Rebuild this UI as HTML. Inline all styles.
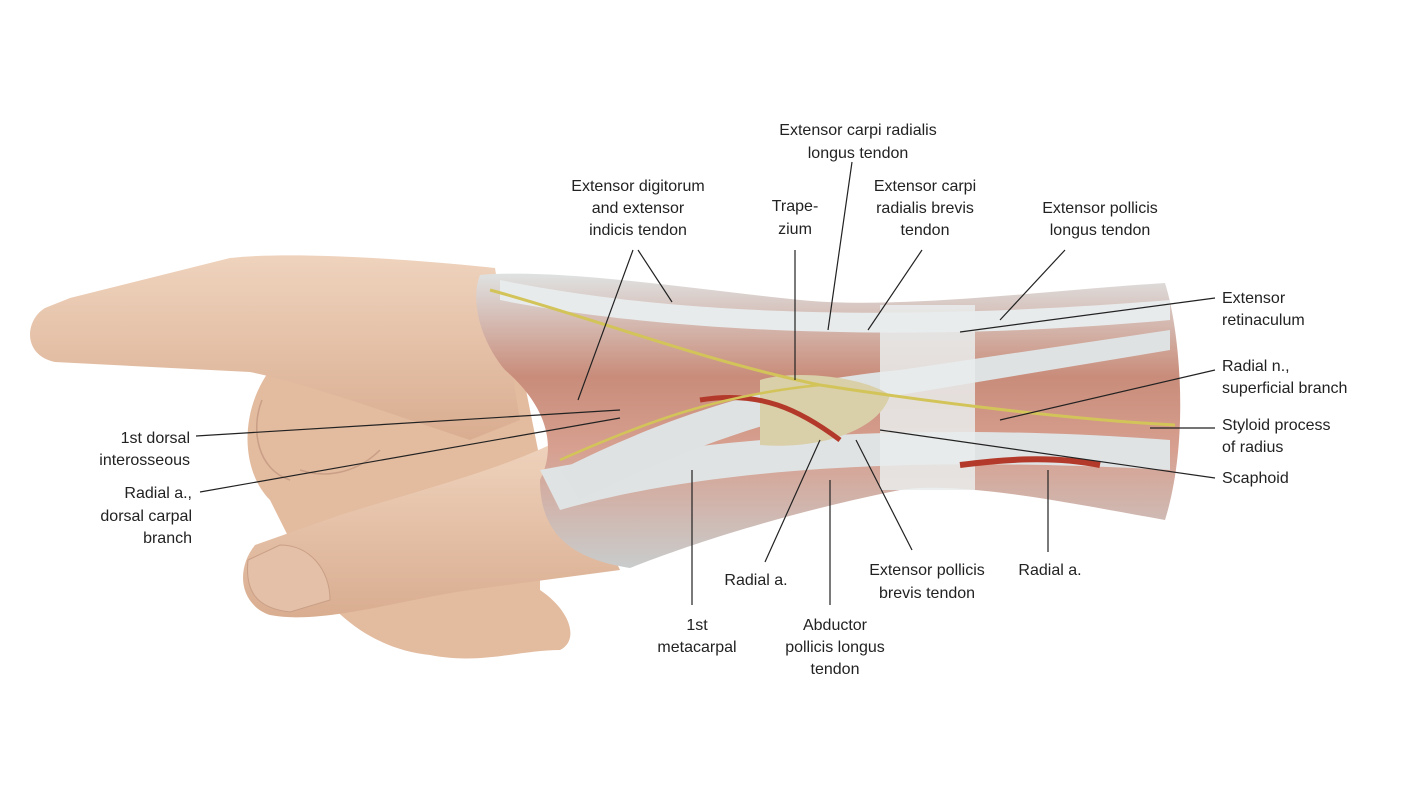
<!DOCTYPE html>
<html><head><meta charset="utf-8"><style>
html,body{margin:0;padding:0;background:#fff;}
svg{display:block}
text{font-family:"Liberation Sans",sans-serif;font-size:16px;fill:#222;}
</style></head><body>
<svg width="1424" height="798" viewBox="0 0 1424 798">
<defs>
<linearGradient id="skin" x1="0" y1="0" x2="0" y2="1"><stop offset="0" stop-color="#efd3bd"/><stop offset="1" stop-color="#d9ad90"/></linearGradient>
<linearGradient id="arm" x1="0" y1="0" x2="0" y2="1"><stop offset="0" stop-color="#dfe2e2"/><stop offset="0.35" stop-color="#c98c7a"/><stop offset="0.6" stop-color="#d7a090"/><stop offset="1" stop-color="#c9cccc"/></linearGradient>
</defs>
<!-- curled fingers / palm fill -->
<path d="M270,370 C240,410 240,470 270,500 L300,560 C330,620 380,650 430,655 C480,665 520,650 560,650 C580,640 570,610 540,590 L540,460 L520,360 Z" fill="#e3bb9f"/>
<path d="M262,400 C250,430 258,470 290,480 M300,470 C330,480 360,470 380,450" stroke="#c99f86" stroke-width="1.5" fill="none"/>
<!-- index finger -->
<path d="M45,308 C25,320 22,355 55,362 L250,372 C300,382 380,410 470,440 L520,420 L495,268 C440,262 300,250 230,258 L70,298 Z" fill="url(#skin)"/>
<!-- thumb -->
<path d="M255,545 C235,570 240,605 270,615 C320,625 400,600 470,590 L620,570 L560,440 C500,470 420,490 340,515 Z" fill="url(#skin)"/>
<path d="M248,560 C245,590 255,608 290,612 L330,600 C330,570 310,545 280,545 Z" fill="#e4c0a8" stroke="#c99f86"/>
<!-- forearm dissection -->
<path d="M480,275 C560,268 700,290 800,300 C900,310 1050,290 1165,283 C1180,330 1190,440 1165,520 C1080,505 960,480 900,490 C800,510 700,540 630,568 C580,560 540,540 540,480 C560,440 540,400 505,370 C480,340 470,300 480,275 Z" fill="url(#arm)"/>
<path d="M500,280 C600,300 800,330 1170,300 L1170,320 C900,345 650,330 500,300 Z" fill="#e8ebec"/>
<path d="M540,470 C700,440 900,420 1170,440 L1170,470 C900,455 700,470 560,510 Z" fill="#e0e3e4"/>
<path d="M560,470 C700,400 800,380 900,370 L1170,330 L1170,350 L900,395 C800,410 700,440 580,500 Z" fill="#dfe2e3"/>
<rect x="880" y="305" width="95" height="185" fill="#e9ecec" opacity="0.85"/>
<path d="M760,380 C790,370 860,375 890,395 C880,430 820,450 760,445 Z" fill="#d9cfa8"/>
<path d="M960,465 C1000,460 1050,455 1100,465" stroke="#b33a2a" stroke-width="6" fill="none"/>
<path d="M700,400 C760,390 800,410 840,440" stroke="#b33a2a" stroke-width="5" fill="none"/>
<path d="M490,290 C600,320 700,360 820,385 C950,405 1080,420 1175,425" stroke="#d3c45a" stroke-width="3" fill="none"/>
<path d="M560,460 C650,420 720,395 820,385" stroke="#d3c45a" stroke-width="2.5" fill="none"/>
<!-- leader lines -->
<g stroke="#222" stroke-width="1.2" fill="none">
<line x1="852" y1="162" x2="828" y2="330"/>
<line x1="633" y1="250" x2="578" y2="400"/>
<line x1="638" y1="250" x2="672" y2="302"/>
<line x1="795" y1="250" x2="795" y2="380"/>
<line x1="922" y1="250" x2="868" y2="330"/>
<line x1="1065" y1="250" x2="1000" y2="320"/>
<line x1="1215" y1="298" x2="960" y2="332"/>
<line x1="1215" y1="370" x2="1000" y2="420"/>
<line x1="1215" y1="428" x2="1150" y2="428"/>
<line x1="1215" y1="478" x2="880" y2="430"/>
<line x1="196" y1="436" x2="620" y2="410"/>
<line x1="200" y1="492" x2="620" y2="418"/>
<line x1="765" y1="562" x2="820" y2="440"/>
<line x1="692" y1="605" x2="692" y2="470"/>
<line x1="830" y1="605" x2="830" y2="480"/>
<line x1="912" y1="550" x2="856" y2="440"/>
<line x1="1048" y1="552" x2="1048" y2="470"/>
</g>
<g text-anchor="middle">
<text x="858" y="135">Extensor carpi radialis</text><text x="858" y="158">longus tendon</text>
<text x="638" y="191">Extensor digitorum</text><text x="638" y="213">and extensor</text><text x="638" y="235">indicis tendon</text>
<text x="795" y="211">Trape-</text><text x="795" y="234">zium</text>
<text x="925" y="191">Extensor carpi</text><text x="925" y="213">radialis brevis</text><text x="925" y="235">tendon</text>
<text x="1100" y="213">Extensor pollicis</text><text x="1100" y="235">longus tendon</text>
<text x="756" y="585">Radial a.</text>
<text x="697" y="630">1st</text><text x="697" y="652">metacarpal</text>
<text x="835" y="630">Abductor</text><text x="835" y="652">pollicis longus</text><text x="835" y="674">tendon</text>
<text x="927" y="575">Extensor pollicis</text><text x="927" y="598">brevis tendon</text>
<text x="1050" y="575">Radial a.</text>
</g>
<g>
<text x="1222" y="303">Extensor</text><text x="1222" y="325">retinaculum</text>
<text x="1222" y="371">Radial n.,</text><text x="1222" y="393">superficial branch</text>
<text x="1222" y="430">Styloid process</text><text x="1222" y="452">of radius</text>
<text x="1222" y="483">Scaphoid</text>
</g>
<g text-anchor="end">
<text x="190" y="443">1st dorsal</text><text x="190" y="465">interosseous</text>
<text x="192" y="498">Radial a.,</text><text x="192" y="521">dorsal carpal</text><text x="192" y="543">branch</text>
</g>
</svg>
</body></html>
